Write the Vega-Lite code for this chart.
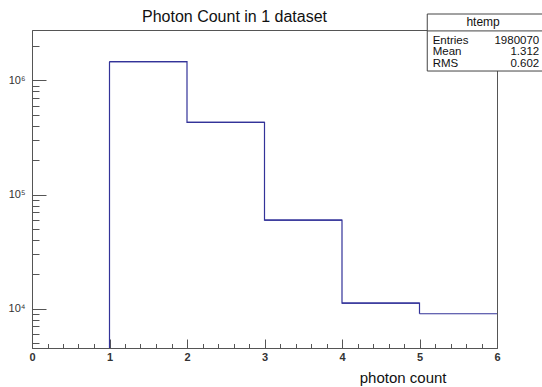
{
  "$schema": "https://vega.github.io/schema/vega-lite/v6.json",
  "width": 465,
  "height": 318,
  "autosize": {"type": "none"},
  "padding": {"left": 32, "top": 30, "right": 45, "bottom": 39},
  "background": "white",
  "title": {"text": "Photon Count in 1 dataset", "font": "Liberation Sans", "fontSize": 16, "fontWeight": "normal", "color": "#111", "anchor": "middle", "dx": -30, "offset": -11},
  "config": {
    "view": {"stroke": "#555", "strokeWidth": 1},
    "axis": {"grid": false, "domainColor": "#555", "tickColor": "#555", "labelFont": "Liberation Sans", "titleFont": "Liberation Sans", "labelColor": "#111", "titleColor": "#111"}
  },
  "data": {"values": [{}]},
  "datasets": {
    "bins": [
      {"lo": 1, "hi": 2, "count": 1456000},
      {"lo": 2, "hi": 3, "count": 428000},
      {"lo": 3, "hi": 4, "count": 59600},
      {"lo": 4, "hi": 5, "count": 11200},
      {"lo": 5, "hi": 6, "count": 9040}
    ]
  },
  "resolve": {"axis": {"x": "independent", "y": "independent"}},
  "layer": [
    {
      "data": {"name": "bins"},
      "mark": {"type": "rule", "color": "#333399", "strokeWidth": 1.2, "clip": true},
      "encoding": {
        "x": {"field": "lo", "type": "quantitative",
          "scale": {"domain": [0, 6], "nice": false, "zero": false},
          "axis": {
            "orient": "bottom",
            "values": [0, 1, 2, 3, 4, 5, 6],
            "format": "d",
            "tickSize": -9,
            "labelPadding": 12,
            "labelFontSize": 11,
            "labelFontWeight": "bold",
            "labelColor": "#333",
            "labelFlush": false,
            "labelOverlap": false,
            "title": "photon count",
            "titleFontSize": 15,
            "titleFontWeight": "normal",
            "titleAlign": "right",
            "titleAnchor": "end",
            "titleX": 414,
            "titlePadding": 8
          }
        },
        "x2": {"field": "hi"},
        "y": {"field": "count", "type": "quantitative",
          "scale": {"type": "log", "domain": [4530, 2760000], "nice": false},
          "axis": {
            "orient": "left",
            "values": [10000, 100000, 1000000],
            "labelExpr": "datum.value == 10000 ? '10⁴' : datum.value == 100000 ? '10⁵' : '10⁶'",
            "tickSize": -14,
            "labelPadding": 21,
            "labelFontSize": 11,
            "labelColor": "#333",
            "labelFlush": false,
            "labelOverlap": false,
            "title": null
          }
        }
      }
    },
    {
      "data": {"name": "bins"},
      "mark": {"type": "line", "interpolate": "step-after", "color": "#333399", "strokeWidth": 1.2, "clip": true},
      "encoding": {
        "x": {"field": "lo", "type": "quantitative",
          "axis": {
            "orient": "bottom",
            "values": [0.2, 0.4, 0.6, 0.8, 1.2, 1.4, 1.6, 1.8, 2.2, 2.4, 2.6, 2.8, 3.2, 3.4, 3.6, 3.8, 4.2, 4.4, 4.6, 4.8, 5.2, 5.4, 5.6, 5.8],
            "tickSize": -4.5,
            "labels": false,
            "domain": false,
            "title": null
          }
        },
        "y": {"field": "count", "type": "quantitative",
          "axis": {
            "orient": "left",
            "values": [5000, 6000, 7000, 8000, 9000, 20000, 30000, 40000, 50000, 60000, 70000, 80000, 90000, 200000, 300000, 400000, 500000, 600000, 700000, 800000, 900000, 2000000],
            "tickSize": -7,
            "labels": false,
            "domain": false,
            "title": null
          }
        }
      }
    },
    {
      "data": {"name": "bins"},
      "transform": [{"filter": "datum.lo == 1"}],
      "mark": {"type": "rule", "color": "#333399", "strokeWidth": 1.2, "clip": true},
      "encoding": {
        "x": {"field": "lo", "type": "quantitative", "axis": null},
        "y": {"field": "count", "type": "quantitative", "axis": null},
        "y2": {"value": "height"}
      }
    },
    {
      "mark": {"type": "rect", "fill": "white", "stroke": "#444", "strokeWidth": 1},
      "encoding": {
        "x": {"datum": 5.10, "type": "quantitative", "axis": null},
        "x2": {"datum": 6.62},
        "y": {"datum": 3810000, "type": "quantitative", "axis": null},
        "y2": {"datum": 1207000}
      }
    },
    {
      "mark": {"type": "rule", "stroke": "#444", "strokeWidth": 1},
      "encoding": {
        "x": {"datum": 5.10, "type": "quantitative", "axis": null},
        "x2": {"datum": 6.62},
        "y": {"datum": 2710000, "type": "quantitative", "axis": null}
      }
    },
    {
      "mark": {"type": "text", "font": "Liberation Sans", "fontSize": 12, "align": "center", "baseline": "middle", "color": "#111"},
      "encoding": {"x": {"datum": 5.82, "type": "quantitative", "axis": null}, "y": {"datum": 3240000, "type": "quantitative", "axis": null}, "text": {"value": "htemp"}}
    },
    {
      "mark": {"type": "text", "font": "Liberation Sans", "fontSize": 11.5, "align": "left", "baseline": "middle", "color": "#111"},
      "encoding": {"x": {"datum": 5.17, "type": "quantitative", "axis": null}, "y": {"datum": 2213000, "type": "quantitative", "axis": null}, "text": {"value": "Entries"}}
    },
    {
      "mark": {"type": "text", "font": "Liberation Sans", "fontSize": 11.5, "align": "left", "baseline": "middle", "color": "#111"},
      "encoding": {"x": {"datum": 5.17, "type": "quantitative", "axis": null}, "y": {"datum": 1754000, "type": "quantitative", "axis": null}, "text": {"value": "Mean"}}
    },
    {
      "mark": {"type": "text", "font": "Liberation Sans", "fontSize": 11.5, "align": "left", "baseline": "middle", "color": "#111"},
      "encoding": {"x": {"datum": 5.17, "type": "quantitative", "axis": null}, "y": {"datum": 1390000, "type": "quantitative", "axis": null}, "text": {"value": "RMS"}}
    },
    {
      "mark": {"type": "text", "font": "Liberation Sans", "fontSize": 11.5, "align": "right", "baseline": "middle", "color": "#111"},
      "encoding": {"x": {"datum": 6.545, "type": "quantitative", "axis": null}, "y": {"datum": 2213000, "type": "quantitative", "axis": null}, "text": {"value": "1980070"}}
    },
    {
      "mark": {"type": "text", "font": "Liberation Sans", "fontSize": 11.5, "align": "right", "baseline": "middle", "color": "#111"},
      "encoding": {"x": {"datum": 6.545, "type": "quantitative", "axis": null}, "y": {"datum": 1754000, "type": "quantitative", "axis": null}, "text": {"value": "1.312"}}
    },
    {
      "mark": {"type": "text", "font": "Liberation Sans", "fontSize": 11.5, "align": "right", "baseline": "middle", "color": "#111"},
      "encoding": {"x": {"datum": 6.545, "type": "quantitative", "axis": null}, "y": {"datum": 1390000, "type": "quantitative", "axis": null}, "text": {"value": "0.602"}}
    }
  ]
}
